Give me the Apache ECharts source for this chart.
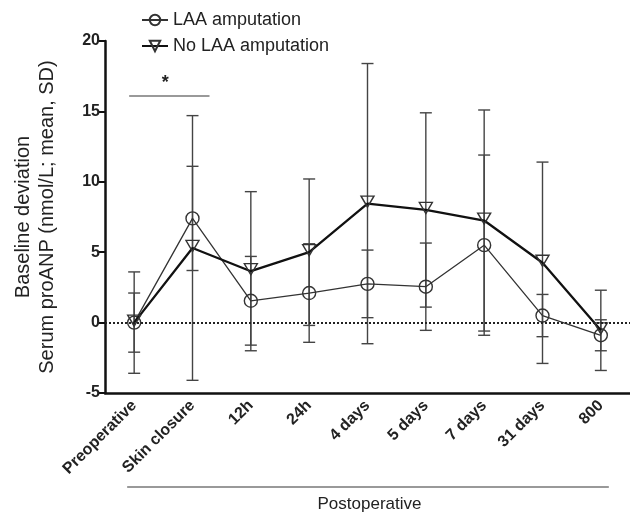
<!DOCTYPE html>
<html>
<head>
<meta charset="utf-8">
<script src="https://cdn.jsdelivr.net/npm/echarts@6/dist/echarts.min.js"></script>
<style>
  html, body { margin: 0; padding: 0; background: #fff; }
  #chart { width: 630px; height: 514px; }
</style>
</head>
<body>
<div id="chart"></div>
<script>
  // categories / values
  const categories = ['Preoperative', 'Skin closure', '12h', '24h', '4 days', '5 days', '7 days', '31 days', '800']
  const laaMean = [0, 7.4, 1.55, 2.1, 2.75, 2.55, 5.5, 0.5, -0.9]
  const laaSd = [2.1, 3.7, 3.15, 3.5, 2.4, 3.1, 6.4, 1.5, 1.1]
  const noLaaMean = [0, 5.3, 3.65, 5.0, 8.45, 8.0, 7.25, 4.25, -0.55]
  const noLaaSd = [3.6, 9.4, 5.65, 5.2, 9.95, 6.9, 7.85, 7.15, 2.85]
  const yTicks = [-5, 0, 5, 10, 15, 20]
  const sigLevel = 16.1 // Preoperative vs Skin closure
  const FONT = 'Liberation Sans'

  const dom = document.getElementById('chart')
  const myChart = echarts.init(dom)

  function errData(mean, sd) {
    return mean.map((m, i) => [i, m, sd[i]])
  }

  function renderErr(params, api) {
    const x = api.value(0)
    const m = api.value(1)
    const s = api.value(2)
    const top = api.coord([x, m + s])
    const bot = api.coord([x, m - s])
    const w = 6
    const style = { stroke: '#444', lineWidth: 1.4 }
    return {
      type: 'group',
      children: [
        { type: 'line', shape: { x1: top[0], y1: top[1], x2: bot[0], y2: bot[1] }, style },
        { type: 'line', shape: { x1: top[0] - w, y1: top[1], x2: top[0] + w, y2: top[1] }, style },
        { type: 'line', shape: { x1: bot[0] - w, y1: bot[1], x2: bot[0] + w, y2: bot[1] }, style }
      ]
    }
  }

  myChart.setOption({
    animation: false,
    textStyle: { fontFamily: FONT },
    legend: {
      orient: 'vertical',
      left: 136,
      top: 6,
      itemGap: 8,
      itemWidth: 26,
      itemHeight: 13,
      textStyle: { fontSize: 18, color: '#222', fontFamily: FONT },
      data: ['LAA amputation', 'No LAA amputation']
    },
    grid: { left: 105, top: 41, width: 527, height: 352 },
    xAxis: {
      type: 'category',
      data: categories,
      axisLine: { onZero: false, lineStyle: { color: '#111', width: 2.5 } },
      axisTick: { alignWithLabel: true, length: 6, lineStyle: { color: '#111', width: 2 } },
      axisLabel: { rotate: 45, fontSize: 16, fontWeight: 'bold', color: '#222', margin: 10, fontFamily: FONT }
    },
    yAxis: {
      type: 'value',
      min: yTicks[0],
      max: yTicks[yTicks.length - 1],
      interval: 5,
      name: 'Baseline deviation\nSerum proANP (nmol/L; mean, SD)',
      nameLocation: 'middle',
      nameGap: 46,
      nameTextStyle: { fontSize: 20, lineHeight: 24, color: '#222', fontFamily: FONT },
      splitLine: { show: false },
      axisLine: { show: true, lineStyle: { color: '#111', width: 2.5 } },
      axisTick: { show: true, length: 6, lineStyle: { color: '#111', width: 2 } },
      axisLabel: { fontSize: 16, fontWeight: 'bold', color: '#222', margin: 5, fontFamily: FONT }
    },
    series: [
      {
        type: 'custom',
        name: 'errLaa',
        z: 1,
        silent: true,
        renderItem: renderErr,
        data: errData(laaMean, laaSd)
      },
      {
        type: 'custom',
        name: 'errNoLaa',
        z: 1,
        silent: true,
        renderItem: renderErr,
        data: errData(noLaaMean, noLaaSd)
      },
      {
        type: 'custom',
        name: 'sig',
        z: 1,
        silent: true,
        renderItem: function(params, api) {
          const a = api.coord([api.value(0), api.value(2)])
          const b = api.coord([api.value(1), api.value(2)])
          const x1 = a[0] - 5
          const x2 = b[0] + 17
          return {
            type: 'group',
            children: [
              { type: 'line', shape: { x1: x1, y1: a[1], x2: x2, y2: a[1] }, style: { stroke: '#777', lineWidth: 1.5 } },
              { type: 'text', style: { x: (x1 + x2) / 2 - 4, y: a[1] - 4, text: '*', font: 'bold 18px ' + FONT, fill: '#222', align: 'center', verticalAlign: 'bottom' } }
            ]
          }
        },
        data: [[0, 1, sigLevel]]
      },
      {
        name: 'LAA amputation',
        type: 'line',
        z: 3,
        data: laaMean,
        symbol: 'circle',
        symbolSize: 13,
        lineStyle: { color: '#333', width: 1.3 },
        itemStyle: { color: 'rgba(255,255,255,0)', borderColor: '#333', borderWidth: 1.4 },
        markLine: {
          silent: true,
          symbol: 'none',
          label: { show: false },
          lineStyle: { color: '#222', type: [2, 2], width: 2 },
          data: [{ yAxis: 0 }]
        }
      },
      {
        name: 'No LAA amputation',
        type: 'line',
        z: 4,
        data: noLaaMean,
        symbol: 'triangle',
        symbolRotate: 180,
        symbolSize: [13, 11],
        symbolOffset: [0, -2],
        lineStyle: { color: '#111', width: 2.3 },
        itemStyle: { color: 'rgba(255,255,255,0)', borderColor: '#333', borderWidth: 1.4 }
      }
    ]
  })

  // "Postoperative" bracket under the axis labels
  const p0 = myChart.convertToPixel({ xAxisIndex: 0 }, 0)
  const p8 = myChart.convertToPixel({ xAxisIndex: 0 }, categories.length - 1)
  myChart.setOption({
    graphic: [
      { type: 'line', shape: { x1: p0 - 7, y1: 487, x2: p8 + 8, y2: 487 }, style: { stroke: '#777', lineWidth: 1.5 } },
      { type: 'text', x: (p0 + p8) / 2 + 2, y: 504, style: { text: 'Postoperative', font: '17px ' + FONT, fill: '#222', align: 'center', verticalAlign: 'middle' } }
    ]
  })
</script>
</body>
</html>
